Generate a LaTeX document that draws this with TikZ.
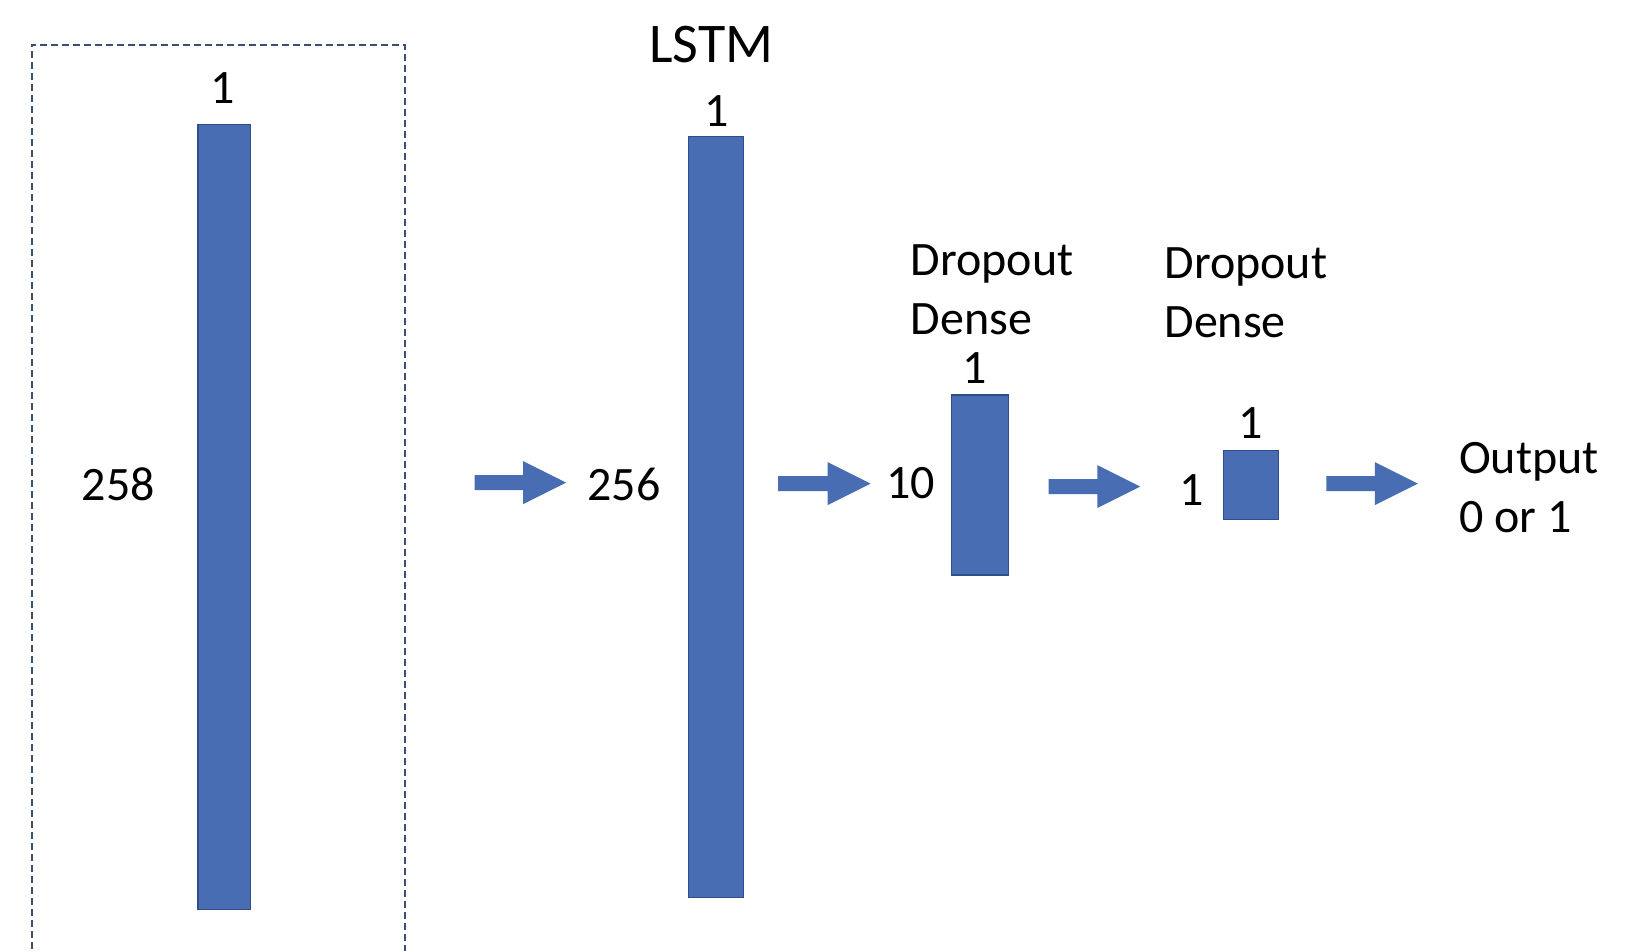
\documentclass[tikz,border=0pt]{standalone}
\usepackage{fontspec}
\setmainfont{Carlito}
\usetikzlibrary{calc}
\definecolor{barblue}{HTML}{486DB3}
\definecolor{baredge}{HTML}{2F4E87}
\definecolor{boxline}{HTML}{3A4F73}
\tikzset{
  layerbar/.style={draw=baredge, line width=0.6pt, fill=barblue, inner sep=0pt, outer sep=0pt},
  lbl/.style={inner sep=0pt, font=\fontsize{24}{29.5}\selectfont, text=black},
  title/.style={inner sep=0pt, font=\fontsize{28}{34}\selectfont, text=black},
  groupbox/.style={draw=boxline, line width=0.75pt, dash pattern=on 3.5pt off 2pt},
}
\newcommand{\blockarrow}[2]{%
  \fill[barblue] let \p1=(#1), \p2=(#2) in
    (\x1,\y1+3.75pt) -- (\x2-21.5pt,\y1+3.75pt) -- (\x2-21.5pt,\y1+10.75pt)
    -- (\x2,\y1) -- (\x2-21.5pt,\y1-10.75pt) -- (\x2-21.5pt,\y1-3.75pt)
    -- (\x1,\y1-3.75pt) -- cycle;}
\begin{document}
\begin{tikzpicture}[x=0.5pt,y=-0.5pt]
\useasboundingbox (0,0) rectangle (1642,950);
\begin{scope}[x=0.4975pt,y=-0.4975pt]
% dashed group box
\draw[groupbox] (32,965) -- (32,45) -- (407,45) -- (407,965);
% bars
\node[layerbar, minimum width=26.4pt, minimum height=392.5pt] (b1) at (225.5,519.5) {};
\node[layerbar, minimum width=27.4pt, minimum height=380.5pt] (b2) at (719.5,519.5) {};
\node[layerbar, minimum width=28.8pt, minimum height=90pt] (b3) at (985,487.5) {};
\node[layerbar, minimum width=27.4pt, minimum height=34.3pt] (b4) at (1257.5,487.5) {};
% labels
\node[lbl] (t1) at (224,88) {1};
\node[lbl] (n258) at (119,487) {258};
\node[title] (lstm) at (715,45) {LSTM};
\node[lbl] (t2) at (720,112) {1};
\node[lbl] (n256) at (627,487) {256};
\node[lbl] (n10) at (915,486) {10};
\node[lbl] (t3) at (980,370) {1};
\node[lbl, anchor=west, align=left] (d1) at (915,291) {Dropout\\Dense};
\node[lbl] (n1) at (1198,492) {1};
\node[lbl] (t4) at (1257,425) {1};
\node[lbl, anchor=west, align=left] (d2) at (1170,294) {Dropout\\Dense};
\node[lbl, anchor=west, align=left] (out) at (1466,490) {Output\\0 or 1};
% arrows
\coordinate (a1s) at (477,485); \coordinate (a1e) at (569,485);
\coordinate (a2s) at (782,486); \coordinate (a2e) at (875,486);
\coordinate (a3s) at (1054,489); \coordinate (a3e) at (1146,489);
\coordinate (a4s) at (1333,486); \coordinate (a4e) at (1425,486);
\blockarrow{a1s}{a1e}
\blockarrow{a2s}{a2e}
\blockarrow{a3s}{a3e}
\blockarrow{a4s}{a4e}
\end{scope}
\end{tikzpicture}
\end{document}
